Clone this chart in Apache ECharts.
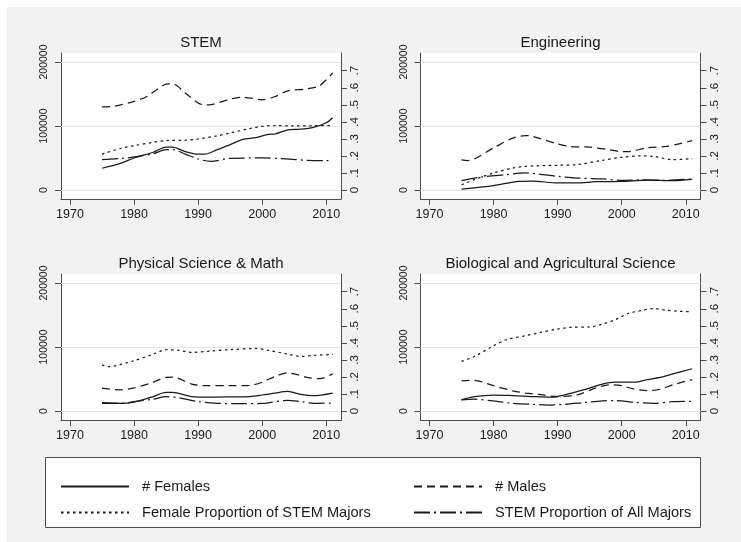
<!DOCTYPE html>
<html>
<head>
<meta charset="utf-8">
<script src="https://cdn.jsdelivr.net/npm/echarts@6/dist/echarts.min.js"></script>
<style>
  html, body { margin: 0; padding: 0; background: #ffffff; }
  #chart { width: 741px; height: 542px; }
</style>
</head>
<body>
<div id="chart"></div>
<script>
// Panel titles
const panelTitles = ['STEM', 'Engineering', 'Physical Science & Math', 'Biological and Agricultural Science'];

// Axis ticks
const yearTicks = [1970, 1980, 1990, 2000, 2010];
const countTicks = [0, 100000, 200000];
const shareTicks = [0, 0.1, 0.2, 0.3, 0.4, 0.5, 0.6, 0.7];

// Series names
const seriesNames = ['# Females', '# Males', 'Female Proportion of STEM Majors', 'STEM Proportion of All Majors'];

// STEM
const stemFemales = [[1975,34000],[1978,42000],[1980,50000],[1983,59000],[1985,67000],[1986,67000],[1988,60000],[1990,56000],[1991,56000],[1993,63000],[1995,71000],[1997,79000],[1999,82000],[2001,87000],[2002,87500],[2004,94000],[2006,95000],[2008,98000],[2010,105000],[2011,113000]];
const stemMales = [[1975,129700],[1977,131000],[1980,138500],[1982,146000],[1984,160000],[1985,165500],[1986,166000],[1988,151500],[1990,136000],[1991,133000],[1992,133500],[1995,142000],[1997,145000],[2000,141000],[2002,146000],[2004,155000],[2007,158000],[2009,163500],[2011,183000]];
const stemFemaleShare = [[1975,0.211],[1978,0.245],[1980,0.26],[1983,0.28],[1985,0.29],[1988,0.292],[1990,0.30],[1993,0.318],[1995,0.335],[1998,0.36],[2000,0.374],[2002,0.378],[2005,0.376],[2008,0.377],[2011,0.378]];
const stemShareAll = [[1975,0.178],[1978,0.185],[1980,0.194],[1983,0.213],[1985,0.237],[1986,0.237],[1988,0.211],[1990,0.182],[1992,0.168],[1995,0.186],[2000,0.188],[2003,0.184],[2007,0.174],[2010,0.172],[2011,0.178]];

// Engineering
const engFemales = [[1975,1500],[1980,7000],[1984,13500],[1986,14000],[1990,11000],[1993,11000],[1996,13000],[2000,13500],[2004,15500],[2008,14500],[2011,16500]];
const engMales = [[1975,47000],[1976,46000],[1980,66000],[1983,81000],[1985,85000],[1986,84000],[1990,72000],[1992,68000],[1995,67000],[1998,63000],[2000,60000],[2001,60000],[2004,66000],[2007,68000],[2011,77000]];
const engFemaleShare = [[1975,0.031],[1977,0.061],[1980,0.10],[1983,0.129],[1985,0.139],[1990,0.145],[1993,0.149],[1997,0.174],[2000,0.192],[2003,0.20],[2005,0.197],[2008,0.178],[2011,0.184]];
const engShareAll = [[1975,0.055],[1978,0.076],[1982,0.09],[1985,0.10],[1987,0.094],[1990,0.08],[1993,0.07],[1997,0.065],[2000,0.057],[2003,0.059],[2007,0.057],[2011,0.065]];

// Physical Science & Math
const physFemales = [[1975,13000],[1978,12000],[1980,14000],[1983,22600],[1985,29000],[1986,29000],[1989,22600],[1992,21600],[1995,22000],[1998,22600],[2000,25000],[2002,28000],[2004,30500],[2006,26000],[2008,24000],[2011,28000]];
const physMales = [[1975,35800],[1978,33000],[1980,36000],[1983,45000],[1985,52600],[1986,53000],[1989,42000],[1991,39500],[1995,39500],[1998,40000],[2000,45000],[2002,54000],[2004,59500],[2005,58000],[2007,52600],[2009,50500],[2011,58000]];
const physFemaleShare = [[1975,0.271],[1976,0.261],[1980,0.295],[1983,0.334],[1985,0.36],[1987,0.356],[1989,0.344],[1992,0.352],[1995,0.36],[1999,0.367],[2001,0.356],[2004,0.334],[2006,0.32],[2008,0.326],[2011,0.332]];
const physShareAll = [[1975,0.045],[1978,0.045],[1980,0.055],[1983,0.069],[1985,0.084],[1987,0.077],[1990,0.055],[1993,0.045],[1996,0.043],[2000,0.045],[2004,0.063],[2006,0.055],[2008,0.045],[2011,0.047]];

// Biological and Agricultural Science
const bioFemales = [[1975,17400],[1977,22600],[1980,25000],[1983,24000],[1986,22600],[1989,21600],[1991,25000],[1994,33000],[1997,42000],[1999,45000],[2002,45000],[2004,49000],[2006,52600],[2008,58000],[2011,66000]];
const bioMales = [[1975,47000],[1977,48000],[1980,39500],[1983,31600],[1985,28000],[1987,26000],[1990,22600],[1993,25000],[1996,36000],[1998,41000],[2000,39500],[2002,34000],[2004,32000],[2006,34000],[2008,41000],[2011,49000]];
const bioFemaleShare = [[1975,0.291],[1977,0.32],[1980,0.383],[1982,0.418],[1985,0.442],[1987,0.458],[1990,0.481],[1992,0.491],[1995,0.493],[1997,0.51],[1999,0.536],[2001,0.572],[2003,0.589],[2005,0.601],[2007,0.591],[2009,0.585],[2011,0.582]];
const bioShareAll = [[1975,0.065],[1977,0.069],[1980,0.059],[1983,0.045],[1986,0.039],[1989,0.035],[1991,0.039],[1994,0.049],[1997,0.059],[1999,0.061],[2002,0.051],[2005,0.045],[2008,0.055],[2011,0.057]];

const panelData = [
  [stemFemales, stemMales, stemFemaleShare, stemShareAll],
  [engFemales, engMales, engFemaleShare, engShareAll],
  [physFemales, physMales, physFemaleShare, physShareAll],
  [bioFemales, bioMales, bioFemaleShare, bioShareAll]
];

const FONT = 'Liberation Sans, Arial, Helvetica, sans-serif';
const INK = '#1a1a1a';
const AXIS = '#4d4d4d';

// Panel placement (plot regions)
const cols = [61, 420.5];
const rows = [53, 274];
const plotW = 280, plotH = 146;

// Line styles for the four measures
const lineStyles = [
  { type: 'solid' },
  { type: [8, 5] },
  { type: [2.5, 3.5] },
  { type: [16, 4, 2, 4] }
];

const grids = [], xAxes = [], yAxes = [], series = [], titles = [];

panelTitles.forEach((name, p) => {
  const left = cols[p % 2], top = rows[Math.floor(p / 2)];
  grids.push({ left: left, top: top, width: plotW, height: plotH, show: true, backgroundColor: '#ffffff', borderWidth: 0, containLabel: false });
  titles.push({
    text: name, left: left + plotW / 2, top: top - 18, textAlign: 'center', padding: 0,
    textStyle: { fontFamily: FONT, fontSize: 15, fontWeight: 'normal', color: INK }
  });
  xAxes.push({
    type: 'value', gridIndex: p, min: 1968.6, max: 2012.3,
    axisLine: { show: true, onZero: false, lineStyle: { color: AXIS, width: 1 } },
    axisTick: { show: true, length: 6, customValues: yearTicks, lineStyle: { color: AXIS } },
    axisLabel: { customValues: yearTicks, margin: 9, fontFamily: FONT, fontSize: 12.5, color: INK, formatter: v => String(v) },
    splitLine: { show: false }
  });
  yAxes.push({
    type: 'value', gridIndex: p, position: 'left', min: -14060, max: 214060,
    axisLine: { show: true, onZero: false, lineStyle: { color: AXIS, width: 1 } },
    axisTick: { show: true, length: 6, customValues: countTicks, lineStyle: { color: AXIS } },
    axisLabel: { customValues: countTicks, rotate: 90, margin: 11, fontFamily: FONT, fontSize: 10.5, color: INK, formatter: v => String(v) },
    splitLine: { show: false }
  });
  yAxes.push({
    type: 'value', gridIndex: p, position: 'right', min: -0.0528, max: 0.804,
    axisLine: { show: true, onZero: false, lineStyle: { color: AXIS, width: 1 } },
    axisTick: { show: true, length: 6, customValues: shareTicks, lineStyle: { color: AXIS } },
    axisLabel: {
      customValues: shareTicks, rotate: 90, margin: 8, fontFamily: FONT, fontSize: 11.5, color: INK,
      formatter: v => (Math.abs(v) < 1e-9 ? '0' : '.' + Math.round(v * 10))
    },
    splitLine: { show: false }
  });

  panelData[p].forEach((data, k) => {
    const s = {
      name: seriesNames[k], type: 'line', xAxisIndex: p, yAxisIndex: 2 * p + (k < 2 ? 0 : 1),
      data: data, symbol: 'none', smooth: 0.3, silent: true,
      lineStyle: Object.assign({ color: INK, width: 1.25 }, lineStyles[k]),
      itemStyle: { color: INK },
      z: 3
    };
    if (k === 0) {
      // horizontal grid lines at the left-axis ticks
      s.markLine = {
        silent: true, symbol: 'none', label: { show: false }, animation: false, z: 1,
        lineStyle: { color: '#e6e6e6', width: 1, type: 'solid' },
        emphasis: { disabled: true },
        data: countTicks.map(v => ({ yAxis: v }))
      };
    }
    series.push(s);
  });
});

const legendCommon = {
  orient: 'vertical', top: 479, itemWidth: 68, itemHeight: 14, itemGap: 11, padding: 0,
  selectedMode: false,
  itemStyle: { opacity: 0, borderWidth: 0 },
  textStyle: { fontFamily: FONT, fontSize: 14.6, color: INK, padding: [0, 0, 0, 8] }
};

const option = {
  animation: false,
  backgroundColor: '#ffffff',
  graphic: [
    { type: 'rect', z: -10, shape: { x: 7, y: 7, width: 734, height: 535 }, style: { fill: '#f2f2f2' } },
    { type: 'rect', z: -9, shape: { x: 45.5, y: 457.5, width: 655, height: 70 }, style: { fill: '#ffffff', stroke: '#4d4d4d', lineWidth: 1 } }
  ],
  title: titles,
  grid: grids,
  xAxis: xAxes,
  yAxis: yAxes,
  legend: [
    Object.assign({ left: 60, data: [seriesNames[0], seriesNames[2]] }, legendCommon),
    Object.assign({ left: 413, data: [seriesNames[1], seriesNames[3]] }, legendCommon)
  ],
  series: series
};

const chart = echarts.init(document.getElementById('chart'), null, { renderer: 'canvas' });
chart.setOption(option);
</script>
</body>
</html>
